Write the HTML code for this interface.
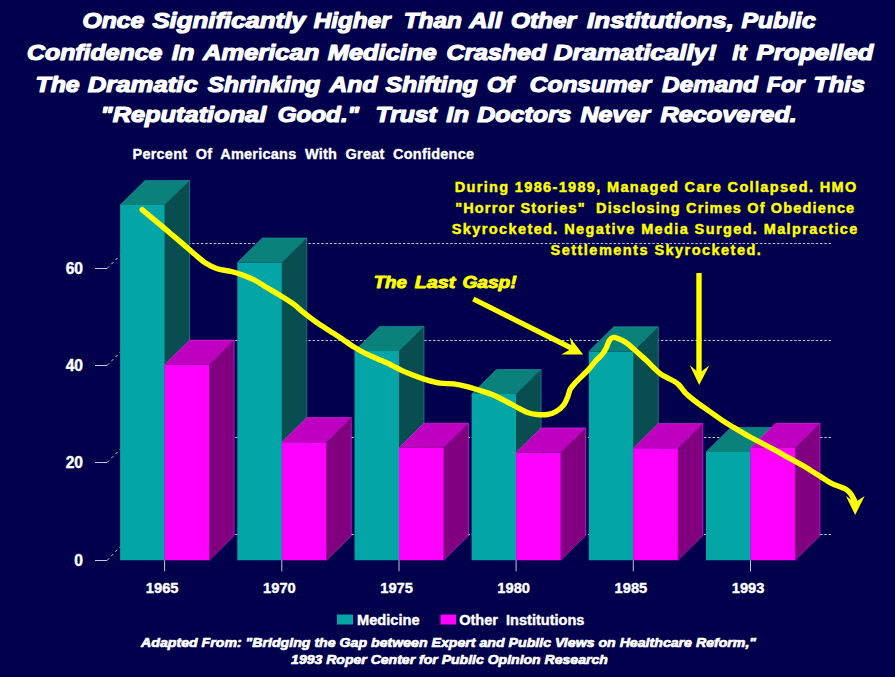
<!DOCTYPE html>
<html><head><meta charset="utf-8"><style>
html,body{margin:0;padding:0;background:#00004c;}
svg{display:block;font-family:"Liberation Sans", sans-serif;}
</style></head><body>
<svg width="895" height="677" viewBox="0 0 895 677">
<rect width="895" height="677" fill="#00004c"/>
<line x1="132" y1="243.5" x2="831" y2="243.5" stroke="#c0c0d8" stroke-width="1" stroke-dasharray="2.5,1.8"/>
<line x1="95" y1="268.5" x2="107" y2="268.5" stroke="#c8c8d8" stroke-width="1"/>
<line x1="107" y1="268.5" x2="132" y2="243.5" stroke="#c8c8d8" stroke-width="1" stroke-dasharray="3,3"/>
<line x1="132" y1="340.5" x2="831" y2="340.5" stroke="#c0c0d8" stroke-width="1" stroke-dasharray="2.5,1.8"/>
<line x1="95" y1="365.5" x2="107" y2="365.5" stroke="#c8c8d8" stroke-width="1"/>
<line x1="107" y1="365.5" x2="132" y2="340.5" stroke="#c8c8d8" stroke-width="1" stroke-dasharray="3,3"/>
<line x1="132" y1="437.5" x2="831" y2="437.5" stroke="#c0c0d8" stroke-width="1" stroke-dasharray="2.5,1.8"/>
<line x1="95" y1="462.5" x2="107" y2="462.5" stroke="#c8c8d8" stroke-width="1"/>
<line x1="107" y1="462.5" x2="132" y2="437.5" stroke="#c8c8d8" stroke-width="1" stroke-dasharray="3,3"/>
<line x1="132" y1="534.5" x2="831" y2="534.5" stroke="#c0c0d8" stroke-width="1" stroke-dasharray="2.5,1.8"/>
<line x1="95" y1="560.5" x2="107" y2="560.5" stroke="#c8c8d8" stroke-width="1"/>
<line x1="107" y1="560.5" x2="132" y2="534.5" stroke="#c8c8d8" stroke-width="1" stroke-dasharray="3,3"/>
<polygon points="120.1,205.0 165.2,205.0 165.2,560.3 120.1,560.3" fill="#04a5a7"/>
<polygon points="120.1,205.0 145.1,180.4 189.6,180.4 164.6,205.0" fill="#0a817a"/>
<polygon points="164.6,205.0 189.6,180.4 189.6,535.7 164.6,560.3" fill="#084e51"/>
<polyline points="120.1,205.0 145.1,180.4 189.6,180.4 189.6,535.7" fill="none" stroke="#30a0b0" stroke-width="0.8" stroke-opacity="0.7"/>
<line x1="164.6" y1="205.0" x2="189.6" y2="180.4" stroke="#30a0b0" stroke-width="0.6" stroke-opacity="0.5"/>
<line x1="164.9" y1="560.3" x2="189.6" y2="535.7" stroke="#30a0b0" stroke-width="0.8" stroke-opacity="0.6"/>
<polygon points="164.6,364.7 209.7,364.7 209.7,560.3 164.6,560.3" fill="#ff00ff"/>
<polygon points="164.6,364.7 189.6,340.1 234.1,340.1 209.1,364.7" fill="#c000c0"/>
<polygon points="209.1,364.7 234.1,340.1 234.1,535.7 209.1,560.3" fill="#800080"/>
<polyline points="164.6,364.7 189.6,340.1 234.1,340.1 234.1,535.7" fill="none" stroke="#f030f0" stroke-width="0.8" stroke-opacity="0.7"/>
<line x1="209.1" y1="364.7" x2="234.1" y2="340.1" stroke="#f030f0" stroke-width="0.6" stroke-opacity="0.5"/>
<line x1="209.4" y1="560.3" x2="234.1" y2="535.7" stroke="#f030f0" stroke-width="0.8" stroke-opacity="0.6"/>
<line x1="164.6" y1="560.3" x2="164.6" y2="571.3" stroke="#c8c8d8" stroke-width="1"/>
<polygon points="237.3,262.6 282.4,262.6 282.4,560.3 237.3,560.3" fill="#04a5a7"/>
<polygon points="237.3,262.6 262.3,238.0 306.8,238.0 281.8,262.6" fill="#0a817a"/>
<polygon points="281.8,262.6 306.8,238.0 306.8,535.7 281.8,560.3" fill="#084e51"/>
<polyline points="237.3,262.6 262.3,238.0 306.8,238.0 306.8,535.7" fill="none" stroke="#30a0b0" stroke-width="0.8" stroke-opacity="0.7"/>
<line x1="281.8" y1="262.6" x2="306.8" y2="238.0" stroke="#30a0b0" stroke-width="0.6" stroke-opacity="0.5"/>
<line x1="282.1" y1="560.3" x2="306.8" y2="535.7" stroke="#30a0b0" stroke-width="0.8" stroke-opacity="0.6"/>
<polygon points="281.8,442.2 326.9,442.2 326.9,560.3 281.8,560.3" fill="#ff00ff"/>
<polygon points="281.8,442.2 306.8,417.6 351.3,417.6 326.3,442.2" fill="#c000c0"/>
<polygon points="326.3,442.2 351.3,417.6 351.3,535.7 326.3,560.3" fill="#800080"/>
<polyline points="281.8,442.2 306.8,417.6 351.3,417.6 351.3,535.7" fill="none" stroke="#f030f0" stroke-width="0.8" stroke-opacity="0.7"/>
<line x1="326.3" y1="442.2" x2="351.3" y2="417.6" stroke="#f030f0" stroke-width="0.6" stroke-opacity="0.5"/>
<line x1="326.6" y1="560.3" x2="351.3" y2="535.7" stroke="#f030f0" stroke-width="0.8" stroke-opacity="0.6"/>
<line x1="281.8" y1="560.3" x2="281.8" y2="571.3" stroke="#c8c8d8" stroke-width="1"/>
<polygon points="354.5,351.0 399.6,351.0 399.6,560.3 354.5,560.3" fill="#04a5a7"/>
<polygon points="354.5,351.0 379.5,326.4 424.0,326.4 399.0,351.0" fill="#0a817a"/>
<polygon points="399.0,351.0 424.0,326.4 424.0,535.7 399.0,560.3" fill="#084e51"/>
<polyline points="354.5,351.0 379.5,326.4 424.0,326.4 424.0,535.7" fill="none" stroke="#30a0b0" stroke-width="0.8" stroke-opacity="0.7"/>
<line x1="399.0" y1="351.0" x2="424.0" y2="326.4" stroke="#30a0b0" stroke-width="0.6" stroke-opacity="0.5"/>
<line x1="399.3" y1="560.3" x2="424.0" y2="535.7" stroke="#30a0b0" stroke-width="0.8" stroke-opacity="0.6"/>
<polygon points="399.0,447.8 444.1,447.8 444.1,560.3 399.0,560.3" fill="#ff00ff"/>
<polygon points="399.0,447.8 424.0,423.2 468.5,423.2 443.5,447.8" fill="#c000c0"/>
<polygon points="443.5,447.8 468.5,423.2 468.5,535.7 443.5,560.3" fill="#800080"/>
<polyline points="399.0,447.8 424.0,423.2 468.5,423.2 468.5,535.7" fill="none" stroke="#f030f0" stroke-width="0.8" stroke-opacity="0.7"/>
<line x1="443.5" y1="447.8" x2="468.5" y2="423.2" stroke="#f030f0" stroke-width="0.6" stroke-opacity="0.5"/>
<line x1="443.8" y1="560.3" x2="468.5" y2="535.7" stroke="#f030f0" stroke-width="0.8" stroke-opacity="0.6"/>
<line x1="399.0" y1="560.3" x2="399.0" y2="571.3" stroke="#c8c8d8" stroke-width="1"/>
<polygon points="471.6,394.1 516.7,394.1 516.7,560.3 471.6,560.3" fill="#04a5a7"/>
<polygon points="471.6,394.1 496.6,369.5 541.1,369.5 516.1,394.1" fill="#0a817a"/>
<polygon points="516.1,394.1 541.1,369.5 541.1,535.7 516.1,560.3" fill="#084e51"/>
<polyline points="471.6,394.1 496.6,369.5 541.1,369.5 541.1,535.7" fill="none" stroke="#30a0b0" stroke-width="0.8" stroke-opacity="0.7"/>
<line x1="516.1" y1="394.1" x2="541.1" y2="369.5" stroke="#30a0b0" stroke-width="0.6" stroke-opacity="0.5"/>
<line x1="516.4" y1="560.3" x2="541.1" y2="535.7" stroke="#30a0b0" stroke-width="0.8" stroke-opacity="0.6"/>
<polygon points="516.1,452.5 561.2,452.5 561.2,560.3 516.1,560.3" fill="#ff00ff"/>
<polygon points="516.1,452.5 541.1,427.9 585.6,427.9 560.6,452.5" fill="#c000c0"/>
<polygon points="560.6,452.5 585.6,427.9 585.6,535.7 560.6,560.3" fill="#800080"/>
<polyline points="516.1,452.5 541.1,427.9 585.6,427.9 585.6,535.7" fill="none" stroke="#f030f0" stroke-width="0.8" stroke-opacity="0.7"/>
<line x1="560.6" y1="452.5" x2="585.6" y2="427.9" stroke="#f030f0" stroke-width="0.6" stroke-opacity="0.5"/>
<line x1="560.9" y1="560.3" x2="585.6" y2="535.7" stroke="#f030f0" stroke-width="0.8" stroke-opacity="0.6"/>
<line x1="516.1" y1="560.3" x2="516.1" y2="571.3" stroke="#c8c8d8" stroke-width="1"/>
<polygon points="588.8,351.4 633.9,351.4 633.9,560.3 588.8,560.3" fill="#04a5a7"/>
<polygon points="588.8,351.4 613.8,326.8 658.3,326.8 633.3,351.4" fill="#0a817a"/>
<polygon points="633.3,351.4 658.3,326.8 658.3,535.7 633.3,560.3" fill="#084e51"/>
<polyline points="588.8,351.4 613.8,326.8 658.3,326.8 658.3,535.7" fill="none" stroke="#30a0b0" stroke-width="0.8" stroke-opacity="0.7"/>
<line x1="633.3" y1="351.4" x2="658.3" y2="326.8" stroke="#30a0b0" stroke-width="0.6" stroke-opacity="0.5"/>
<line x1="633.6" y1="560.3" x2="658.3" y2="535.7" stroke="#30a0b0" stroke-width="0.8" stroke-opacity="0.6"/>
<polygon points="633.3,448.2 678.4,448.2 678.4,560.3 633.3,560.3" fill="#ff00ff"/>
<polygon points="633.3,448.2 658.3,423.6 702.8,423.6 677.8,448.2" fill="#c000c0"/>
<polygon points="677.8,448.2 702.8,423.6 702.8,535.7 677.8,560.3" fill="#800080"/>
<polyline points="633.3,448.2 658.3,423.6 702.8,423.6 702.8,535.7" fill="none" stroke="#f030f0" stroke-width="0.8" stroke-opacity="0.7"/>
<line x1="677.8" y1="448.2" x2="702.8" y2="423.6" stroke="#f030f0" stroke-width="0.6" stroke-opacity="0.5"/>
<line x1="678.1" y1="560.3" x2="702.8" y2="535.7" stroke="#f030f0" stroke-width="0.8" stroke-opacity="0.6"/>
<line x1="633.3" y1="560.3" x2="633.3" y2="571.3" stroke="#c8c8d8" stroke-width="1"/>
<polygon points="706.0,452.0 751.1,452.0 751.1,560.3 706.0,560.3" fill="#04a5a7"/>
<polygon points="706.0,452.0 731.0,427.4 775.5,427.4 750.5,452.0" fill="#0a817a"/>
<polygon points="750.5,452.0 775.5,427.4 775.5,535.7 750.5,560.3" fill="#084e51"/>
<polyline points="706.0,452.0 731.0,427.4 775.5,427.4 775.5,535.7" fill="none" stroke="#30a0b0" stroke-width="0.8" stroke-opacity="0.7"/>
<line x1="750.5" y1="452.0" x2="775.5" y2="427.4" stroke="#30a0b0" stroke-width="0.6" stroke-opacity="0.5"/>
<line x1="750.8" y1="560.3" x2="775.5" y2="535.7" stroke="#30a0b0" stroke-width="0.8" stroke-opacity="0.6"/>
<polygon points="750.5,447.9 795.6,447.9 795.6,560.3 750.5,560.3" fill="#ff00ff"/>
<polygon points="750.5,447.9 775.5,423.3 820.0,423.3 795.0,447.9" fill="#c000c0"/>
<polygon points="795.0,447.9 820.0,423.3 820.0,535.7 795.0,560.3" fill="#800080"/>
<polyline points="750.5,447.9 775.5,423.3 820.0,423.3 820.0,535.7" fill="none" stroke="#f030f0" stroke-width="0.8" stroke-opacity="0.7"/>
<line x1="795.0" y1="447.9" x2="820.0" y2="423.3" stroke="#f030f0" stroke-width="0.6" stroke-opacity="0.5"/>
<line x1="795.3" y1="560.3" x2="820.0" y2="535.7" stroke="#f030f0" stroke-width="0.8" stroke-opacity="0.6"/>
<line x1="750.5" y1="560.3" x2="750.5" y2="571.3" stroke="#c8c8d8" stroke-width="1"/>
<path d="M142.1,209.7 C144.6,211.7 152.1,217.9 156.8,221.8 C161.5,225.7 165.7,229.4 170.2,233.2 C174.7,237.0 179.6,241.1 183.6,244.6 C187.6,248.1 190.8,251.0 194.4,254.0 C198.0,257.0 201.3,260.2 205.1,262.7 C208.9,265.1 212.9,267.2 217.2,268.7 C221.4,270.1 226.8,270.5 230.6,271.4 C234.4,272.3 236.5,272.8 240.3,274.2 C244.2,275.6 249.2,277.4 253.7,279.6 C258.2,281.9 262.7,285.0 267.2,287.7 C271.7,290.4 276.1,292.9 280.6,295.7 C285.1,298.5 290.2,301.6 294.0,304.4 C297.8,307.2 299.6,309.4 303.4,312.4 C307.2,315.4 312.3,319.4 316.8,322.5 C321.3,325.6 325.7,328.3 330.2,331.2 C334.7,334.1 339.6,337.2 343.6,339.9 C347.6,342.6 350.8,345.1 354.4,347.3 C358.0,349.5 361.3,351.4 365.1,353.3 C368.9,355.2 372.9,356.8 377.2,358.7 C381.4,360.6 386.5,362.7 390.6,364.7 C394.7,366.7 398.2,368.9 402.0,370.6 C405.8,372.4 409.3,373.6 413.4,375.2 C417.5,376.8 422.3,378.6 426.8,379.9 C431.3,381.2 435.7,382.5 440.2,383.2 C444.7,383.9 449.1,383.3 453.6,383.9 C458.1,384.5 462.5,385.5 467.0,386.6 C471.5,387.7 476.0,389.2 480.5,390.6 C485.0,392.1 489.4,393.4 493.9,395.3 C498.4,397.2 503.3,399.9 507.3,402.0 C511.3,404.1 514.6,406.1 518.0,407.8 C521.4,409.6 524.3,411.4 527.4,412.5 C530.5,413.6 533.4,414.2 536.8,414.5 C540.1,414.8 544.4,414.9 547.5,414.5 C550.6,414.1 552.9,413.4 555.6,411.8 C558.3,410.2 561.6,407.6 563.6,405.1 C565.6,402.6 566.6,399.7 567.7,397.0 C568.8,394.3 569.0,391.4 570.3,389.0 C571.6,386.6 573.7,384.5 575.7,382.3 C577.7,380.1 580.2,377.8 582.4,375.6 C584.6,373.4 586.9,371.4 589.1,368.9 C591.3,366.4 593.6,363.3 595.8,360.8 C598.0,358.3 600.7,356.3 602.5,354.1 C604.3,351.9 605.4,349.6 606.5,347.4 C607.6,345.2 608.1,342.4 609.2,340.7 C610.3,339.0 611.6,337.7 613.2,337.4 C614.8,337.1 616.5,337.9 618.6,338.7 C620.7,339.5 623.5,340.7 626.0,342.4 C628.5,344.1 631.0,346.7 633.4,348.8 C635.8,350.9 637.9,352.8 640.1,354.8 C642.3,356.8 644.6,358.7 646.8,360.8 C649.0,362.9 651.3,365.4 653.5,367.5 C655.7,369.6 658.0,371.9 660.2,373.6 C662.4,375.3 664.7,376.4 666.9,377.6 C669.1,378.8 671.6,379.8 673.6,381.0 C675.6,382.2 677.2,383.2 679.0,385.0 C680.8,386.8 682.9,390.1 684.5,392.0 C686.1,393.9 686.7,394.2 688.9,396.1 C691.1,398.0 694.9,401.0 697.9,403.2 C700.9,405.4 703.8,407.4 706.8,409.5 C709.8,411.6 712.7,413.6 715.7,415.7 C718.7,417.8 721.7,420.1 724.7,422.0 C727.7,423.9 730.6,425.6 733.6,427.4 C736.6,429.2 739.5,430.9 742.6,432.7 C745.7,434.5 747.4,435.5 752.0,438.0 C756.6,440.5 764.5,444.6 770.3,447.7 C776.1,450.8 781.4,453.8 787.0,456.9 C792.6,460.0 799.9,463.9 803.8,466.1 C807.7,468.3 807.5,468.4 810.3,470.2 C813.1,471.9 817.2,474.5 820.7,476.6 C824.2,478.8 827.6,481.3 831.0,483.1 C834.4,484.9 838.7,486.1 841.3,487.2 C843.9,488.3 845.0,488.5 846.5,489.6 C848.0,490.7 849.3,491.8 850.6,493.6 C851.9,495.4 853.9,499.4 854.5,500.5" fill="none" stroke="#ffff00" stroke-width="5.4" stroke-linejoin="round" stroke-linecap="round"/>
<polygon points="855.2,515 845.9,496 854.9,502.5 864.6,496" fill="#ffff00"/>
<line x1="473.3" y1="299" x2="572" y2="348.4" stroke="#ffff00" stroke-width="5.2"/>
<polygon points="583.2,354.6 569.8,337.5 572,348.4 561.2,354.6" fill="#ffff00"/>
<line x1="699" y1="273" x2="699" y2="374" stroke="#ffff00" stroke-width="5.4"/>
<polygon points="699.2,385 689.8,365.2 699.2,373.3 709.4,365.2" fill="#ffff00"/>
<text x="82.50" y="28" font-size="21.5" fill="#ffffff" text-anchor="start" font-weight="bold" font-style="italic" textLength="61.75" lengthAdjust="spacingAndGlyphs" stroke="#ffffff" stroke-width="1.2" stroke-linejoin="round" xml:space="preserve">Once</text>
<text x="152.40" y="28" font-size="21.5" fill="#ffffff" text-anchor="start" font-weight="bold" font-style="italic" textLength="153.29" lengthAdjust="spacingAndGlyphs" stroke="#ffffff" stroke-width="1.2" stroke-linejoin="round" xml:space="preserve">Significantly</text>
<text x="313.80" y="28" font-size="21.5" fill="#ffffff" text-anchor="start" font-weight="bold" font-style="italic" textLength="76.75" lengthAdjust="spacingAndGlyphs" stroke="#ffffff" stroke-width="1.2" stroke-linejoin="round" xml:space="preserve">Higher</text>
<text x="403.77" y="28" font-size="21.5" fill="#ffffff" text-anchor="start" font-weight="bold" font-style="italic" textLength="58.04" lengthAdjust="spacingAndGlyphs" stroke="#ffffff" stroke-width="1.2" stroke-linejoin="round" xml:space="preserve">Than</text>
<text x="469.28" y="28" font-size="21.5" fill="#ffffff" text-anchor="start" font-weight="bold" font-style="italic" textLength="32.43" lengthAdjust="spacingAndGlyphs" stroke="#ffffff" stroke-width="1.2" stroke-linejoin="round" xml:space="preserve">All</text>
<text x="510.90" y="28" font-size="21.5" fill="#ffffff" text-anchor="start" font-weight="bold" font-style="italic" textLength="65.12" lengthAdjust="spacingAndGlyphs" stroke="#ffffff" stroke-width="1.2" stroke-linejoin="round" xml:space="preserve">Other</text>
<text x="587.10" y="28" font-size="21.5" fill="#ffffff" text-anchor="start" font-weight="bold" font-style="italic" textLength="146.90" lengthAdjust="spacingAndGlyphs" stroke="#ffffff" stroke-width="1.2" stroke-linejoin="round" xml:space="preserve">Institutions,</text>
<text x="741.50" y="28" font-size="21.5" fill="#ffffff" text-anchor="start" font-weight="bold" font-style="italic" textLength="74.24" lengthAdjust="spacingAndGlyphs" stroke="#ffffff" stroke-width="1.2" stroke-linejoin="round" xml:space="preserve">Public</text>
<text x="27.00" y="60.2" font-size="21.5" fill="#ffffff" text-anchor="start" font-weight="bold" font-style="italic" textLength="135.39" lengthAdjust="spacingAndGlyphs" stroke="#ffffff" stroke-width="1.2" stroke-linejoin="round" xml:space="preserve">Confidence</text>
<text x="171.70" y="60.2" font-size="21.5" fill="#ffffff" text-anchor="start" font-weight="bold" font-style="italic" textLength="22.83" lengthAdjust="spacingAndGlyphs" stroke="#ffffff" stroke-width="1.2" stroke-linejoin="round" xml:space="preserve">In</text>
<text x="203.09" y="60.2" font-size="21.5" fill="#ffffff" text-anchor="start" font-weight="bold" font-style="italic" textLength="116.21" lengthAdjust="spacingAndGlyphs" stroke="#ffffff" stroke-width="1.2" stroke-linejoin="round" xml:space="preserve">American</text>
<text x="327.70" y="60.2" font-size="21.5" fill="#ffffff" text-anchor="start" font-weight="bold" font-style="italic" textLength="108.90" lengthAdjust="spacingAndGlyphs" stroke="#ffffff" stroke-width="1.2" stroke-linejoin="round" xml:space="preserve">Medicine</text>
<text x="446.40" y="60.2" font-size="21.5" fill="#ffffff" text-anchor="start" font-weight="bold" font-style="italic" textLength="99.79" lengthAdjust="spacingAndGlyphs" stroke="#ffffff" stroke-width="1.2" stroke-linejoin="round" xml:space="preserve">Crashed</text>
<text x="553.80" y="60.2" font-size="21.5" fill="#ffffff" text-anchor="start" font-weight="bold" font-style="italic" textLength="162.86" lengthAdjust="spacingAndGlyphs" stroke="#ffffff" stroke-width="1.2" stroke-linejoin="round" xml:space="preserve">Dramatically!</text>
<text x="732.20" y="60.2" font-size="21.5" fill="#ffffff" text-anchor="start" font-weight="bold" font-style="italic" textLength="14.37" lengthAdjust="spacingAndGlyphs" stroke="#ffffff" stroke-width="1.2" stroke-linejoin="round" xml:space="preserve">It</text>
<text x="756.60" y="60.2" font-size="21.5" fill="#ffffff" text-anchor="start" font-weight="bold" font-style="italic" textLength="116.77" lengthAdjust="spacingAndGlyphs" stroke="#ffffff" stroke-width="1.2" stroke-linejoin="round" xml:space="preserve">Propelled</text>
<text x="35.55" y="91.8" font-size="21.5" fill="#ffffff" text-anchor="start" font-weight="bold" font-style="italic" textLength="44.12" lengthAdjust="spacingAndGlyphs" stroke="#ffffff" stroke-width="1.2" stroke-linejoin="round" xml:space="preserve">The</text>
<text x="87.80" y="91.8" font-size="21.5" fill="#ffffff" text-anchor="start" font-weight="bold" font-style="italic" textLength="109.92" lengthAdjust="spacingAndGlyphs" stroke="#ffffff" stroke-width="1.2" stroke-linejoin="round" xml:space="preserve">Dramatic</text>
<text x="207.70" y="91.8" font-size="21.5" fill="#ffffff" text-anchor="start" font-weight="bold" font-style="italic" textLength="112.58" lengthAdjust="spacingAndGlyphs" stroke="#ffffff" stroke-width="1.2" stroke-linejoin="round" xml:space="preserve">Shrinking</text>
<text x="329.64" y="91.8" font-size="21.5" fill="#ffffff" text-anchor="start" font-weight="bold" font-style="italic" textLength="47.78" lengthAdjust="spacingAndGlyphs" stroke="#ffffff" stroke-width="1.2" stroke-linejoin="round" xml:space="preserve">And</text>
<text x="385.50" y="91.8" font-size="21.5" fill="#ffffff" text-anchor="start" font-weight="bold" font-style="italic" textLength="92.22" lengthAdjust="spacingAndGlyphs" stroke="#ffffff" stroke-width="1.2" stroke-linejoin="round" xml:space="preserve">Shifting</text>
<text x="486.90" y="91.8" font-size="21.5" fill="#ffffff" text-anchor="start" font-weight="bold" font-style="italic" textLength="27.01" lengthAdjust="spacingAndGlyphs" stroke="#ffffff" stroke-width="1.2" stroke-linejoin="round" xml:space="preserve">Of</text>
<text x="529.70" y="91.8" font-size="21.5" fill="#ffffff" text-anchor="start" font-weight="bold" font-style="italic" textLength="121.29" lengthAdjust="spacingAndGlyphs" stroke="#ffffff" stroke-width="1.2" stroke-linejoin="round" xml:space="preserve">Consumer</text>
<text x="662.10" y="91.8" font-size="21.5" fill="#ffffff" text-anchor="start" font-weight="bold" font-style="italic" textLength="95.88" lengthAdjust="spacingAndGlyphs" stroke="#ffffff" stroke-width="1.2" stroke-linejoin="round" xml:space="preserve">Demand</text>
<text x="766.80" y="91.8" font-size="21.5" fill="#ffffff" text-anchor="start" font-weight="bold" font-style="italic" textLength="37.53" lengthAdjust="spacingAndGlyphs" stroke="#ffffff" stroke-width="1.2" stroke-linejoin="round" xml:space="preserve">For</text>
<text x="813.53" y="91.8" font-size="21.5" fill="#ffffff" text-anchor="start" font-weight="bold" font-style="italic" textLength="51.50" lengthAdjust="spacingAndGlyphs" stroke="#ffffff" stroke-width="1.2" stroke-linejoin="round" xml:space="preserve">This</text>
<text x="100.64" y="122.4" font-size="21.5" fill="#ffffff" text-anchor="start" font-weight="bold" font-style="italic" textLength="165.66" lengthAdjust="spacingAndGlyphs" stroke="#ffffff" stroke-width="1.2" stroke-linejoin="round" xml:space="preserve">&quot;Reputational</text>
<text x="277.70" y="122.4" font-size="21.5" fill="#ffffff" text-anchor="start" font-weight="bold" font-style="italic" textLength="81.41" lengthAdjust="spacingAndGlyphs" stroke="#ffffff" stroke-width="1.2" stroke-linejoin="round" xml:space="preserve">Good.&quot;</text>
<text x="375.55" y="122.4" font-size="21.5" fill="#ffffff" text-anchor="start" font-weight="bold" font-style="italic" textLength="61.28" lengthAdjust="spacingAndGlyphs" stroke="#ffffff" stroke-width="1.2" stroke-linejoin="round" xml:space="preserve">Trust</text>
<text x="446.30" y="122.4" font-size="21.5" fill="#ffffff" text-anchor="start" font-weight="bold" font-style="italic" textLength="22.73" lengthAdjust="spacingAndGlyphs" stroke="#ffffff" stroke-width="1.2" stroke-linejoin="round" xml:space="preserve">In</text>
<text x="477.30" y="122.4" font-size="21.5" fill="#ffffff" text-anchor="start" font-weight="bold" font-style="italic" textLength="94.17" lengthAdjust="spacingAndGlyphs" stroke="#ffffff" stroke-width="1.2" stroke-linejoin="round" xml:space="preserve">Doctors</text>
<text x="580.40" y="122.4" font-size="21.5" fill="#ffffff" text-anchor="start" font-weight="bold" font-style="italic" textLength="69.50" lengthAdjust="spacingAndGlyphs" stroke="#ffffff" stroke-width="1.2" stroke-linejoin="round" xml:space="preserve">Never</text>
<text x="660.40" y="122.4" font-size="21.5" fill="#ffffff" text-anchor="start" font-weight="bold" font-style="italic" textLength="136.49" lengthAdjust="spacingAndGlyphs" stroke="#ffffff" stroke-width="1.2" stroke-linejoin="round" xml:space="preserve">Recovered.</text>
<text x="132.5" y="159.1" font-size="14.5" fill="#ffffff" text-anchor="start" font-weight="bold" font-style="normal" textLength="341.5" lengthAdjust="spacing" stroke="#ffffff" stroke-width="0.35" stroke-linejoin="round" xml:space="preserve">Percent  Of  Americans  With  Great  Confidence</text>
<text x="454.7" y="192.1" font-size="14.5" fill="#ffff00" text-anchor="start" font-weight="bold" font-style="normal" textLength="401.5" lengthAdjust="spacing" stroke="#ffff00" stroke-width="0.45" stroke-linejoin="round" xml:space="preserve">During 1986-1989, Managed Care Collapsed. HMO</text>
<text x="455.2" y="213" font-size="14.5" fill="#ffff00" text-anchor="start" font-weight="bold" font-style="normal" textLength="399" lengthAdjust="spacing" stroke="#ffff00" stroke-width="0.45" stroke-linejoin="round" xml:space="preserve">&quot;Horror Stories&quot;  Disclosing Crimes Of Obedience</text>
<text x="451.8" y="234.4" font-size="14.5" fill="#ffff00" text-anchor="start" font-weight="bold" font-style="normal" textLength="405.6" lengthAdjust="spacing" stroke="#ffff00" stroke-width="0.45" stroke-linejoin="round" xml:space="preserve">Skyrocketed. Negative Media Surged. Malpractice</text>
<text x="550.6" y="254.8" font-size="14.5" fill="#ffff00" text-anchor="start" font-weight="bold" font-style="normal" textLength="210.2" lengthAdjust="spacing" stroke="#ffff00" stroke-width="0.45" stroke-linejoin="round" xml:space="preserve">Settlements Skyrocketed.</text>
<text x="373.74" y="287.8" font-size="16" fill="#ffff00" text-anchor="start" font-weight="bold" font-style="italic" textLength="33.13" lengthAdjust="spacingAndGlyphs" stroke="#ffff00" stroke-width="0.9" stroke-linejoin="round" >The</text>
<text x="414.70" y="287.8" font-size="16" fill="#ffff00" text-anchor="start" font-weight="bold" font-style="italic" textLength="40.55" lengthAdjust="spacingAndGlyphs" stroke="#ffff00" stroke-width="0.9" stroke-linejoin="round" >Last</text>
<text x="462.40" y="287.8" font-size="16" fill="#ffff00" text-anchor="start" font-weight="bold" font-style="italic" textLength="54.22" lengthAdjust="spacingAndGlyphs" stroke="#ffff00" stroke-width="0.9" stroke-linejoin="round" >Gasp!</text>
<text x="83" y="274.1" font-size="15.6" fill="#ffffff" text-anchor="end" font-weight="bold" font-style="normal" stroke="#ffffff" stroke-width="0.4" stroke-linejoin="round" >60</text>
<text x="83" y="371.0" font-size="15.6" fill="#ffffff" text-anchor="end" font-weight="bold" font-style="normal" stroke="#ffffff" stroke-width="0.4" stroke-linejoin="round" >40</text>
<text x="83" y="468.1" font-size="15.6" fill="#ffffff" text-anchor="end" font-weight="bold" font-style="normal" stroke="#ffffff" stroke-width="0.4" stroke-linejoin="round" >20</text>
<text x="83" y="565.5" font-size="15.6" fill="#ffffff" text-anchor="end" font-weight="bold" font-style="normal" stroke="#ffffff" stroke-width="0.4" stroke-linejoin="round" >0</text>
<text x="162.2" y="592.7" font-size="14.7" fill="#ffffff" text-anchor="middle" font-weight="bold" font-style="normal" stroke="#ffffff" stroke-width="0.4" stroke-linejoin="round" >1965</text>
<text x="279.4" y="592.7" font-size="14.7" fill="#ffffff" text-anchor="middle" font-weight="bold" font-style="normal" stroke="#ffffff" stroke-width="0.4" stroke-linejoin="round" >1970</text>
<text x="396.6" y="592.7" font-size="14.7" fill="#ffffff" text-anchor="middle" font-weight="bold" font-style="normal" stroke="#ffffff" stroke-width="0.4" stroke-linejoin="round" >1975</text>
<text x="513.7" y="592.7" font-size="14.7" fill="#ffffff" text-anchor="middle" font-weight="bold" font-style="normal" stroke="#ffffff" stroke-width="0.4" stroke-linejoin="round" >1980</text>
<text x="630.9" y="592.7" font-size="14.7" fill="#ffffff" text-anchor="middle" font-weight="bold" font-style="normal" stroke="#ffffff" stroke-width="0.4" stroke-linejoin="round" >1985</text>
<text x="748.1" y="592.7" font-size="14.7" fill="#ffffff" text-anchor="middle" font-weight="bold" font-style="normal" stroke="#ffffff" stroke-width="0.4" stroke-linejoin="round" >1993</text>
<rect x="337" y="614.5" width="16" height="10" fill="#04a5a7"/>
<text x="357" y="625" font-size="14" fill="#ffffff" text-anchor="start" font-weight="bold" font-style="normal" textLength="62.6" lengthAdjust="spacingAndGlyphs" stroke="#ffffff" stroke-width="0.4" stroke-linejoin="round" >Medicine</text>
<rect x="440.5" y="614.5" width="15.6" height="10" fill="#ff00ff"/>
<text x="459.2" y="625" font-size="14" fill="#ffffff" text-anchor="start" font-weight="bold" font-style="normal" textLength="125.2" lengthAdjust="spacingAndGlyphs" stroke="#ffffff" stroke-width="0.4" stroke-linejoin="round" xml:space="preserve">Other  Institutions</text>
<text x="141.1" y="647.3" font-size="13" fill="#ffffff" text-anchor="start" font-weight="bold" font-style="italic" textLength="615" lengthAdjust="spacingAndGlyphs" stroke="#ffffff" stroke-width="0.7" stroke-linejoin="round" >Adapted From: &quot;Bridging the Gap between Expert and Public Views on Healthcare Reform,&quot;</text>
<text x="291.1" y="664.3" font-size="13" fill="#ffffff" text-anchor="start" font-weight="bold" font-style="italic" textLength="316.7" lengthAdjust="spacingAndGlyphs" stroke="#ffffff" stroke-width="0.7" stroke-linejoin="round" >1993 Roper Center for Public Opinion Research</text>
</svg>
</body></html>
